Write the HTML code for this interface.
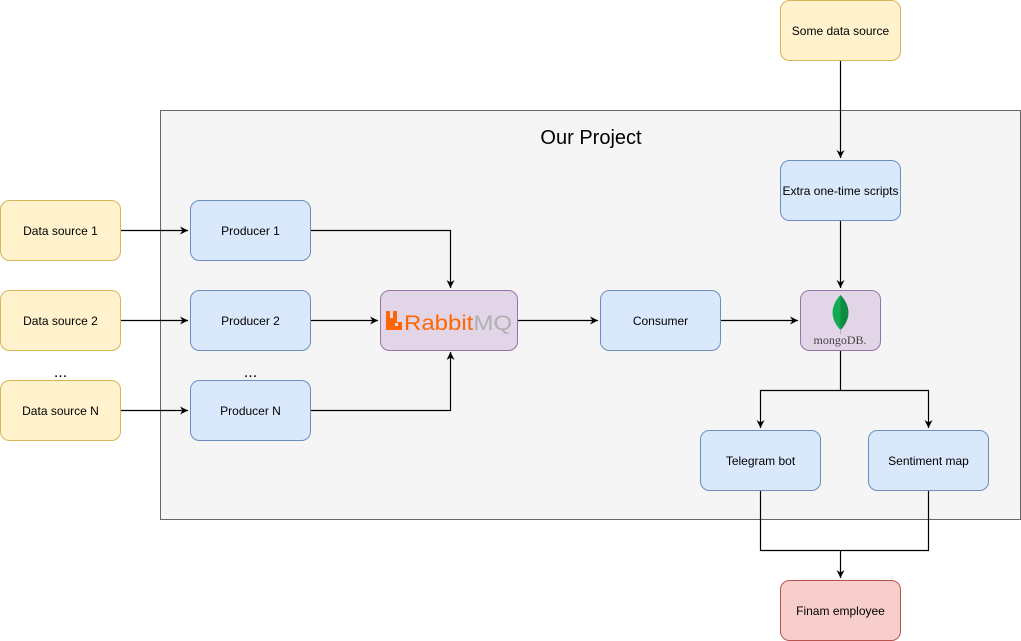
<!DOCTYPE html>
<html><head><meta charset="utf-8"><style>
html,body{margin:0;padding:0;background:#fff;}
svg{display:block;font-family:"Liberation Sans",Arial,sans-serif;}
</style></head><body>
<svg width="1021" height="641" viewBox="0 0 1021 641" xmlns="http://www.w3.org/2000/svg">
<defs>
<marker id="a" markerWidth="10" markerHeight="10" refX="8" refY="5" orient="auto" markerUnits="userSpaceOnUse">
<path d="M0,1 L8,5 L0,9 L2.5,5 Z" fill="#000"/>
</marker>
</defs>
<rect x="160.5" y="110.5" width="860" height="409" fill="#f5f5f5" stroke="#666"/>
<text x="591" y="144" font-size="20" text-anchor="middle" fill="#000">Our Project</text>

<g fill="none" stroke="#000" stroke-width="1.2">
<path d="M120,230.5 H188" marker-end="url(#a)"/>
<path d="M120,320.5 H188" marker-end="url(#a)"/>
<path d="M120,410.5 H188" marker-end="url(#a)"/>
<path d="M310,230.5 H450.5 V288" marker-end="url(#a)"/>
<path d="M310,320.5 H378" marker-end="url(#a)"/>
<path d="M310,410.5 H450.5 V352" marker-end="url(#a)"/>
<path d="M518,320.5 H598" marker-end="url(#a)"/>
<path d="M720,320.5 H798" marker-end="url(#a)"/>
<path d="M840.5,60 V158" marker-end="url(#a)"/>
<path d="M840.5,220 V288" marker-end="url(#a)"/>
<path d="M840.5,350 V390.5 H760.5 V428" marker-end="url(#a)"/>
<path d="M840.5,390.5 H928.5 V428" marker-end="url(#a)"/>
<path d="M760.5,490 V550.5 H928.5 V490"/>
<path d="M840.5,550.5 V578" marker-end="url(#a)"/>
</g>

<g font-size="12" text-anchor="middle" fill="#000">
<g fill="#fff2cc" stroke="#d6b656">
<rect x="0.5" y="200.5" width="120" height="60" rx="9"/>
<rect x="0.5" y="290.5" width="120" height="60" rx="9"/>
<rect x="0.5" y="380.5" width="120" height="60" rx="9"/>
<rect x="780.5" y="0.5" width="120" height="60" rx="9"/>
</g>
<text x="60.5" y="235">Data source 1</text>
<text x="60.5" y="325">Data source 2</text>
<text x="60.5" y="415">Data source N</text>
<text x="840.5" y="35">Some data source</text>

<g fill="#dae8fc" stroke="#6c8ebf">
<rect x="190.5" y="200.5" width="120" height="60" rx="9"/>
<rect x="190.5" y="290.5" width="120" height="60" rx="9"/>
<rect x="190.5" y="380.5" width="120" height="60" rx="9"/>
<rect x="600.5" y="290.5" width="120" height="60" rx="9"/>
<rect x="780.5" y="160.5" width="120" height="60" rx="9"/>
<rect x="700.5" y="430.5" width="120" height="60" rx="9"/>
<rect x="868.5" y="430.5" width="120" height="60" rx="9"/>
</g>
<text x="250.5" y="235">Producer 1</text>
<text x="250.5" y="325">Producer 2</text>
<text x="250.5" y="415">Producer N</text>
<text x="660.5" y="325">Consumer</text>
<text x="840.5" y="195">Extra one-time scripts</text>
<text x="760.5" y="465">Telegram bot</text>
<text x="928.5" y="465">Sentiment map</text>

<rect x="780.5" y="580.5" width="120" height="60" rx="9" fill="#f8cecc" stroke="#b85450"/>
<text x="840.5" y="615">Finam employee</text>
</g>

<text x="60.5" y="377" font-size="16" text-anchor="middle">...</text>
<text x="250.5" y="377" font-size="16" text-anchor="middle">...</text>

<rect x="380.5" y="290.5" width="137" height="60" rx="9" fill="#e1d5e7" stroke="#9673a6"/>
<path d="M386,311 h4 v7 h3 v-7 h4 v11 h5 v8 h-16 Z" fill="#ff6600"/>
<rect x="395" y="323" width="3" height="3" fill="#e1d5e7"/>
<text x="404" y="330" font-size="21" fill="#ff6600" textLength="108" lengthAdjust="spacingAndGlyphs">Rabbit<tspan fill="#b0b0b0">MQ</tspan></text>

<rect x="800.5" y="290.5" width="80" height="60" rx="9" fill="#e1d5e7" stroke="#9673a6"/>
<path d="M840.5,295 C831,305 829,318 840.5,330 C852,318 850,305 840.5,295 Z" fill="#13aa52"/>
<path d="M840.5,295 C850,305 852,318 840.5,330 Z" fill="#0f8a42"/>
<line x1="840.5" y1="329" x2="840.5" y2="334" stroke="#aaa" stroke-width="1"/>
<text x="840" y="344" font-size="12" text-anchor="middle" font-family="'Liberation Serif',serif" fill="#444">mongoDB.</text>
</svg>
</body></html>
